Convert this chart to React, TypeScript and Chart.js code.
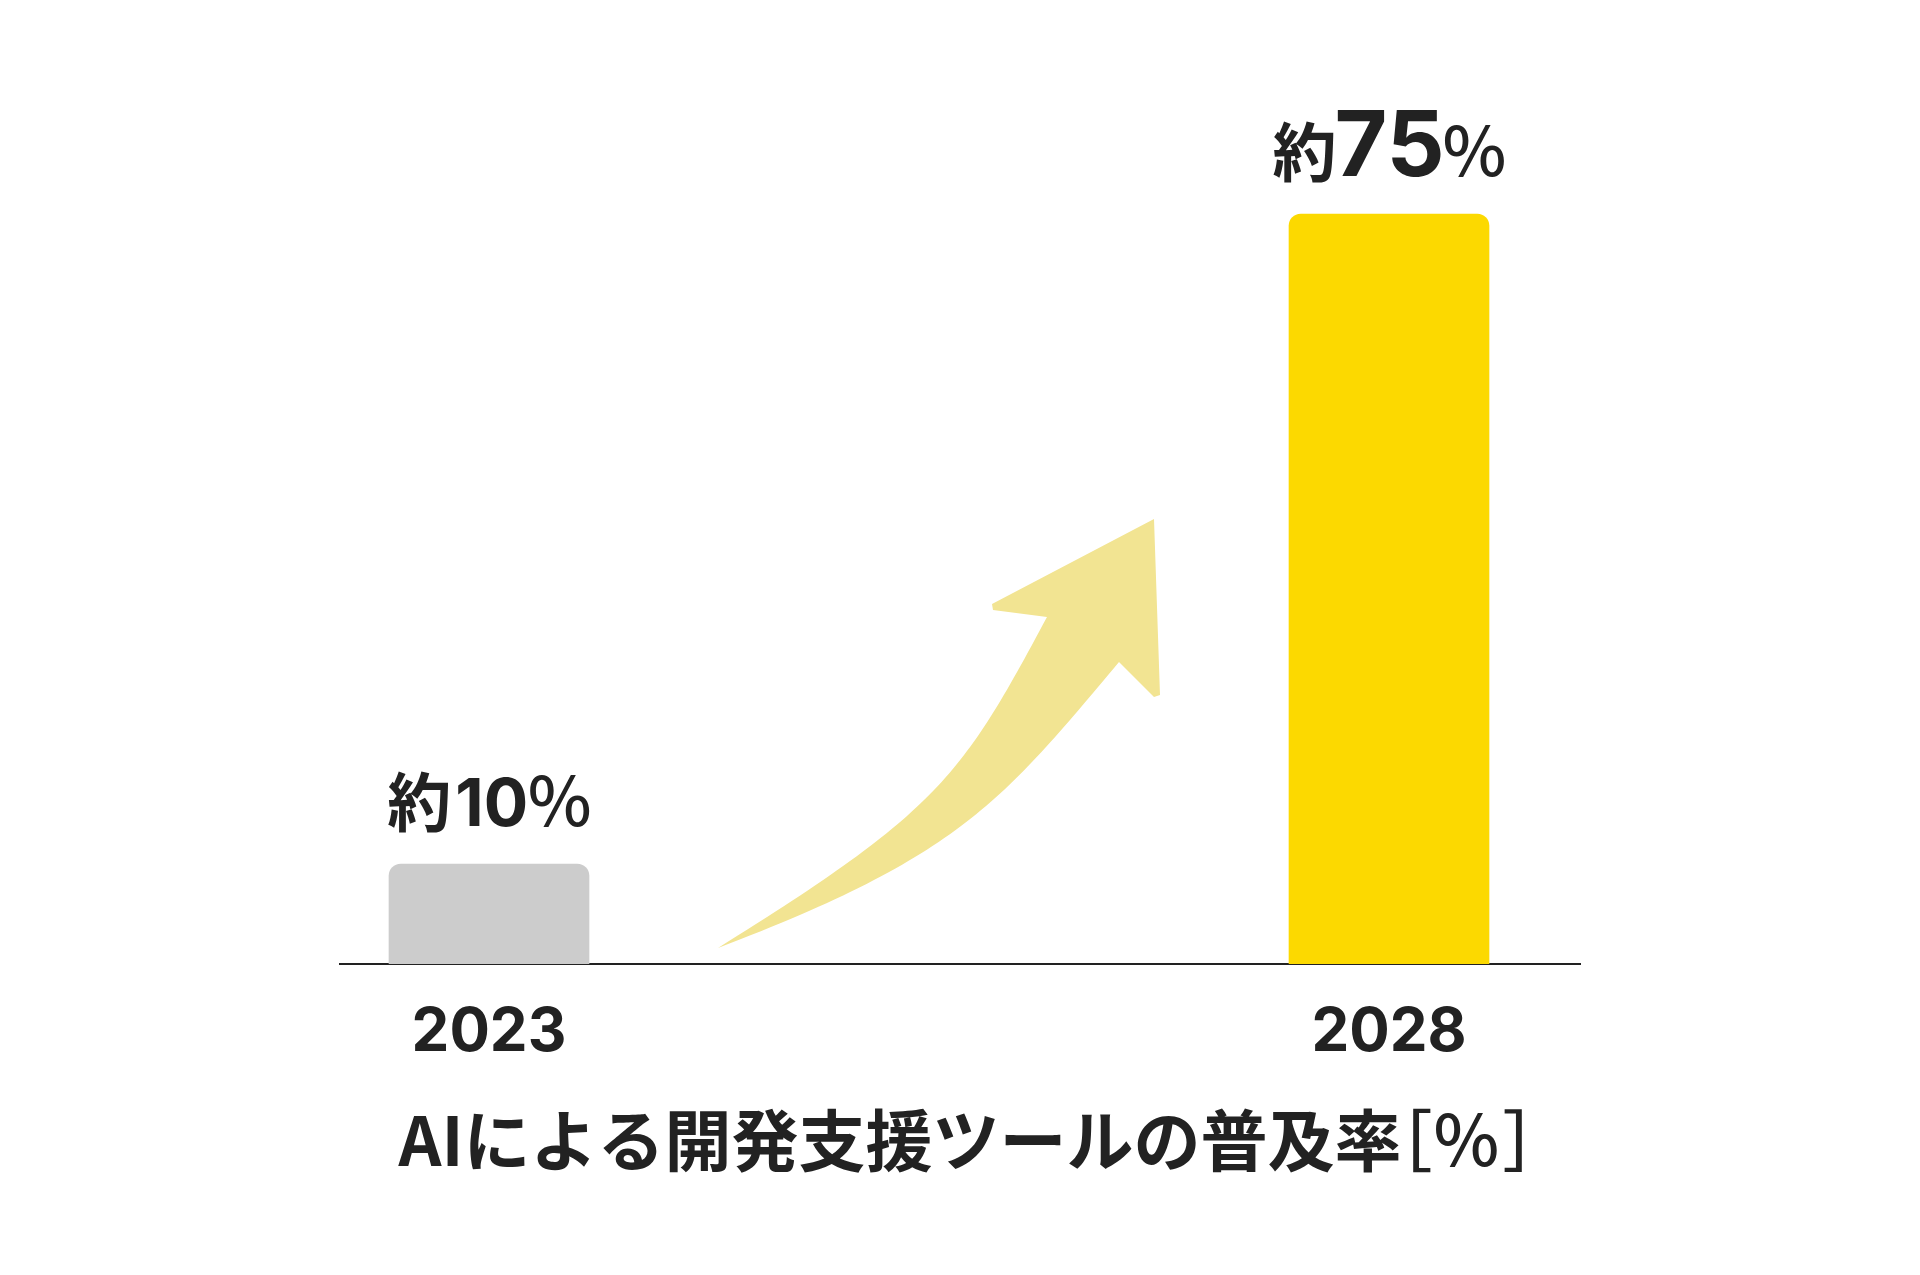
import React, { useEffect, useRef } from "react";
import { Chart, registerables } from "chart.js";

Chart.register(...registerables);

// ---- data ----
const years = [2023, 2028];
const values = [10, 75];
const labelPrefix = ["約", "約"];
const labelSuffix = ["%", "%"];
const barColors = ["#cccccc", "#fcd900"];
const tickYears = [2023, 2028];
const titleMain = "AIによる開発支援ツールの普及率";
const titleUnit = ["［", "%", "］"];

const TEXT = "#222222";
const CJK = "'Noto Sans CJK JP'";

// decorative arrow geometry (reference pixels; chart area origin at left=340, bottom=964)
const arrowTail: [number, number] = [718, 948];
const arrowUpperCtrl: [number, number][] = [[939, 811], [962, 776], [1047, 617]];
const arrowHead: [number, number][] = [
  [993, 610], [992, 604], [1154, 519], [1160, 695], [1154, 697], [1119, 662],
];
const arrowLowerCtrl: [number, number][] = [[1003, 800], [961, 856], [718, 948]];

function inkWidth(ctx: CanvasRenderingContext2D, t: string) {
  const m = ctx.measureText(t);
  return { left: m.actualBoundingBoxLeft, right: m.actualBoundingBoxRight, w: m.actualBoundingBoxLeft + m.actualBoundingBoxRight };
}

const arrowPlugin = {
  id: "arrowDeco",
  beforeDatasetsDraw(chart: any) {
    const ca = chart.chartArea;
    const ox = ca.left - 340;
    const oy = ca.bottom - 964;
    const X = (p: [number, number]) => p[0] + ox;
    const Y = (p: [number, number]) => p[1] + oy;
    const ctx = chart.ctx as CanvasRenderingContext2D;
    ctx.save();
    ctx.fillStyle = "#f2e492";
    ctx.beginPath();
    ctx.moveTo(X(arrowTail), Y(arrowTail));
    const [u1, u2, u3] = arrowUpperCtrl;
    ctx.bezierCurveTo(X(u1), Y(u1), X(u2), Y(u2), X(u3), Y(u3));
    for (const p of arrowHead) ctx.lineTo(X(p), Y(p));
    const [l1, l2, l3] = arrowLowerCtrl;
    ctx.bezierCurveTo(X(l1), Y(l1), X(l2), Y(l2), X(l3), Y(l3));
    ctx.closePath();
    ctx.fill();
    ctx.restore();
  },
};

const valueLabelPlugin = {
  id: "valueLabels",
  afterDatasetsDraw(chart: any) {
    const ctx = chart.ctx as CanvasRenderingContext2D;
    const meta = chart.getDatasetMeta(0);
    const last = values.length - 1;
    meta.data.forEach((el: any, i: number) => {
      const numSize = i === last ? 91 : 66;
      const parts = [
        { t: labelPrefix[i], f: `bold 64px ${CJK}`, gap: i === last ? 4 : 9 },
        { t: String(values[i]), f: `bold ${numSize}px Inter`, gap: 4 },
        { t: labelSuffix[i], f: `500 68px ${CJK}`, gap: 0 },
      ];
      ctx.save();
      ctx.fillStyle = TEXT;
      ctx.textBaseline = "alphabetic";
      ctx.textAlign = "left";
      let total = 0;
      const inks = parts.map((p) => {
        ctx.font = p.f;
        const ink = inkWidth(ctx, p.t);
        total += ink.w + p.gap;
        return ink;
      });
      let x = el.x - total / 2;
      const y = el.y - 38;
      parts.forEach((p, k) => {
        ctx.font = p.f;
        ctx.fillText(p.t, x + inks[k].left, y);
        x += inks[k].w + p.gap;
      });
      ctx.restore();
    });
  },
};

const titlePlugin = {
  id: "bottomTitle",
  afterDraw(chart: any) {
    const ctx = chart.ctx as CanvasRenderingContext2D;
    const ca = chart.chartArea;
    const parts = [
      { t: titleMain, f: `bold 67px ${CJK}`, gap: 13 },
      { t: titleUnit[0], f: `500 67px ${CJK}`, gap: 5 },
      { t: titleUnit[1], f: `500 70px ${CJK}`, gap: 7 },
      { t: titleUnit[2], f: `500 67px ${CJK}`, gap: 0 },
    ];
    ctx.save();
    ctx.fillStyle = TEXT;
    ctx.textBaseline = "alphabetic";
    ctx.textAlign = "left";
    let total = 0;
    const inks = parts.map((p) => {
      ctx.font = p.f;
      const ink = inkWidth(ctx, p.t);
      total += ink.w + p.gap;
      return ink;
    });
    let x = (ca.left + ca.right) / 2 - total / 2;
    const y = ca.bottom + 202;
    parts.forEach((p, k) => {
      ctx.font = p.f;
      ctx.fillText(p.t, x + inks[k].left, y);
      x += inks[k].w + p.gap;
    });
    ctx.restore();
  },
};

export default function App() {
  const ref = useRef<HTMLCanvasElement | null>(null);

  useEffect(() => {
    if (!ref.current) return;
    const chart = new Chart(ref.current, {
      type: "bar",
      data: {
        datasets: [
          {
            data: years.map((x, i) => ({ x, y: values[i] })),
            backgroundColor: barColors,
            barThickness: 200,
            borderRadius: { topLeft: 12, topRight: 12, bottomLeft: 0, bottomRight: 0 },
            borderSkipped: "bottom",
          },
        ],
      },
      options: {
        animation: false,
        responsive: false,
        layout: { padding: { left: 340, right: 340, top: 164, bottom: 173 } },
        plugins: {
          legend: { display: false },
          tooltip: { enabled: false },
          title: { display: false },
        },
        scales: {
          x: {
            type: "linear",
            offset: false,
            min: 2022.1722,
            max: 2029.0611,
            grid: { display: false },
            border: { display: true, color: TEXT, width: 2 },
            afterBuildTicks: (axis: any) => {
              axis.ticks = tickYears.map((v) => ({ value: v }));
            },
            afterFit: (axis: any) => {
              axis.height = 138;
            },
            ticks: {
              color: TEXT,
              padding: 25,
              maxRotation: 0,
              autoSkip: false,
              font: { family: "Inter", size: 60, weight: "bold", lineHeight: 1.2 },
              callback: (v: any) => String(v),
            },
          },
          y: {
            display: false,
            min: 0,
            max: 80,
          },
        },
      },
      plugins: [arrowPlugin, valueLabelPlugin, titlePlugin],
    });
    return () => chart.destroy();
  }, []);

  return (
    <div style={{ position: "absolute", left: 0, top: 0, width: 1920, height: 1275, background: "#ffffff" }}>
      <canvas ref={ref} width={1920} height={1275} style={{ width: 1920, height: 1275, display: "block" }} />
    </div>
  );
}
